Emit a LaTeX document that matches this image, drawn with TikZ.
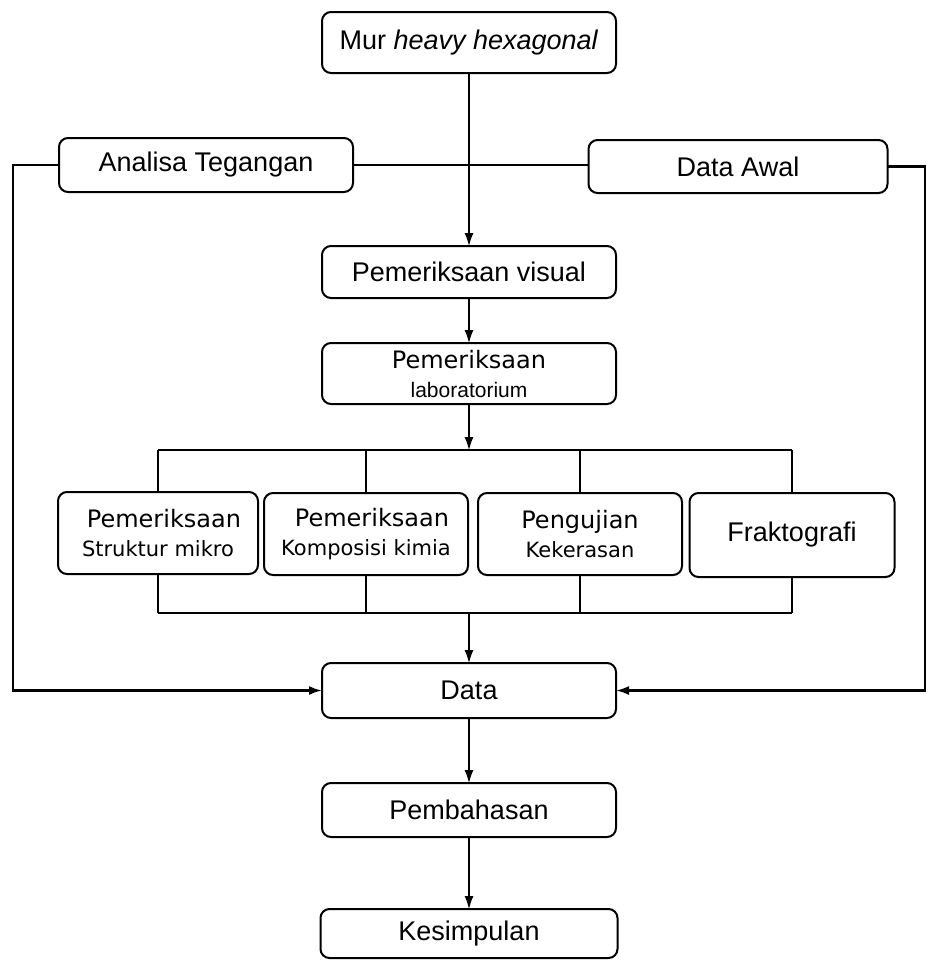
\documentclass[tikz,border=0pt]{standalone}
\usepackage{fontspec}
\setmainfont{Liberation Sans}
\newfontfamily\dejavu{DejaVu Sans}
\usepackage{tikz}
\usetikzlibrary{arrows.meta,positioning}
\newcommand{\labtext}[2]{{\dejavu\fontsize{24}{26}\selectfont #1}\\[0pt]{\dejavu\fontsize{21}{26}\selectfont #2}}

\begin{document}
\begin{tikzpicture}[x=1pt,y=-1pt,every node/.style={outer sep=0pt,inner sep=0pt}]
\tikzstyle{box}=[draw,line width=2pt,rounded corners=9pt,minimum width=294pt,minimum height=54pt,anchor=north,align=center,font=\fontsize{27}{29}\selectfont]
\tikzstyle{labbox}=[box,minimum height=82pt]
\tikzstyle{conn}=[line width=1.3pt,-{Latex[length=13pt,width=9pt]}]
\tikzstyle{bus}=[line width=2.6pt]
\tikzstyle{back}=[line width=2.2pt,-{Latex[length=13pt,width=9pt]}]

\useasboundingbox (0,0) rectangle (927,961);

% main column
\node (mur) at (469,12) [box,minimum height=61pt] {Mur \textit{heavy hexagonal}};

\node (visual) at (mur.south) [box,minimum height=52pt,yshift=-173pt] {Pemeriksaan visual};
\draw [conn] (mur.south) -- (visual.north);

\node (lab) at (visual.south) [box,minimum height=61pt,yshift=-45pt]
   {\dejavu\fontsize{24}{23}\selectfont Pemeriksaan\\{\fontsize{21}{23}\selectfont laboratorium}};
\draw [conn] (visual.south) -- (lab.north);

% side boxes
\node (analisa) at (206,138) [box] {Analisa Tegangan};
\node (awal) at (738,140) [box,minimum width=299pt,minimum height=53pt] {Data Awal};
\draw [bus] (analisa.east) -- (analisa.east -| awal.west);

% laboratory tests
\coordinate (bustop) at (469,450);
\coordinate (busbot) at (469,613);
\node (struktur) at (158,492) [labbox,minimum width=200pt] {\labtext{\hspace*{0.5em}Pemeriksaan}{Struktur mikro}};
\node (kimia) at (366,493) [labbox,minimum width=204pt] {\labtext{\hspace*{0.5em}Pemeriksaan}{Komposisi kimia}};
\node (keras) at (580,493) [labbox,minimum width=204pt] {\labtext{Pengujian}{Kekerasan}};
\node (frakto) at (792,493) [labbox,minimum width=205pt,minimum height=84pt] {Fraktografi};

\draw [conn] (lab.south) -- (bustop);
\draw [bus] (struktur.north |- bustop) -- (frakto.north |- bustop);
\draw [bus] (struktur.south |- busbot) -- (frakto.south |- busbot);
\foreach \t in {struktur,kimia,keras,frakto} {
  \draw [line width=1.3pt] (\t.north |- bustop) -- (\t.north);
  \draw [line width=1.3pt] (\t.south) -- (\t.south |- busbot);
}

\node (data) at (469,663) [box,minimum height=55pt] {Data};
\draw [conn] (busbot) -- (data.north);

\node (bahas) at (data.south) [box,yshift=-65pt] {Pembahasan};
\draw [conn] (data.south) -- (bahas.north);

\node (simpul) at (bahas.south) [box,minimum width=297pt,minimum height=49pt,yshift=-72pt] {Kesimpulan};
\draw [conn] (bahas.south) -- (simpul.north);

% feedback lines
\coordinate (ledge) at (13,0);
\coordinate (redge) at (925,0);
\draw [back] (analisa.west) -- (analisa.west -| ledge) |- (data.west);
\draw [back] (awal.east) -- (awal.east -| redge) |- (data.east);

\end{tikzpicture}
\end{document}
